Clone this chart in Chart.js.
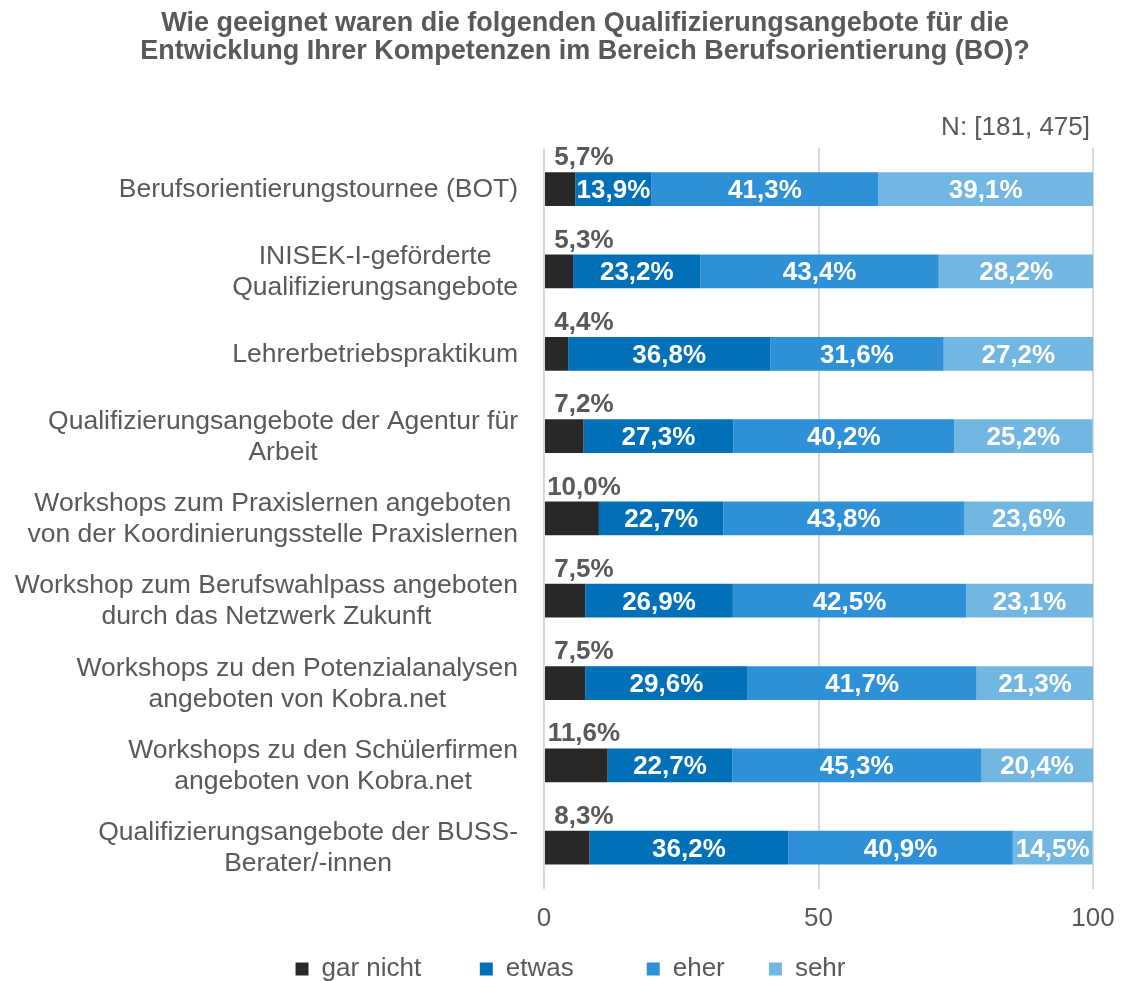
<!DOCTYPE html>
<html lang="de">
<head>
<meta charset="utf-8">
<title>Qualifizierungsangebote BO</title>
<script src="https://cdn.jsdelivr.net/npm/chart.js@4.4.1/dist/chart.umd.min.js"></script>
<style>
  html, body { margin: 0; padding: 0; background: #fff; }
  #wrap { width: 1121px; height: 981px; }
</style>
</head>
<body>
<div id="wrap"><canvas id="boChart" width="1121" height="981"></canvas></div>
<script>
const chartTitle = [
    "Wie geeignet waren die folgenden Qualifizierungsangebote für die",
    "Entwicklung Ihrer Kompetenzen im Bereich Berufsorientierung (BO)?"
];
const sampleNote = "N: [181, 475]";

const categories = [
    ["Berufsorientierungstournee (BOT)"],
    ["INISEK-I-geförderte", "Qualifizierungsangebote"],
    ["Lehrerbetriebspraktikum"],
    ["Qualifizierungsangebote der Agentur für", "Arbeit"],
    ["Workshops zum Praxislernen angeboten", "von der Koordinierungsstelle Praxislernen"],
    ["Workshop zum Berufswahlpass angeboten", "durch das Netzwerk Zukunft"],
    ["Workshops zu den Potenzialanalysen", "angeboten von Kobra.net"],
    ["Workshops zu den Schülerfirmen", "angeboten von Kobra.net"],
    ["Qualifizierungsangebote der BUSS-", "Berater/-innen"]
];

const seriesNames = ["gar nicht", "etwas", "eher", "sehr"];
const garNicht = [5.7, 5.3, 4.4, 7.2, 10.0, 7.5, 7.5, 11.6, 8.3];
const etwas    = [13.9, 23.2, 36.8, 27.3, 22.7, 26.9, 29.6, 22.7, 36.2];
const eher     = [41.3, 43.4, 31.6, 40.2, 43.8, 42.5, 41.7, 45.3, 40.9];
const sehr     = [39.1, 28.2, 27.2, 25.2, 23.6, 23.1, 21.3, 20.4, 14.5];
const xTicks = [0, 50, 100];

const seriesColors = ["#282828", "#0071b9", "#2e91d8", "#72b7e2"];
const FONT = "'Liberation Sans', Arial, sans-serif";
const TEXT_GRAY = "#595959";
const legendGaps = [7, 9, 5, 0]; // extra spacing after legend entries

Chart.defaults.font.family = FONT;

function pct(v) {
    return v.toFixed(1).replace(".", ",") + "%";
}

// title, N, category labels (centered lines) and value labels
const textPlugin = {
    id: "boText",
    afterDatasetsDraw(chart) {
        const ctx = chart.ctx;
        const area = chart.chartArea;
        const yScale = chart.scales.y;
        ctx.save();
        ctx.fillStyle = TEXT_GRAY;
        ctx.textBaseline = "alphabetic";

        ctx.font = "bold 27px " + FONT;
        ctx.textAlign = "center";
        chartTitle.forEach((line, i) => ctx.fillText(line, 585, 31 + i * 28));

        ctx.font = "26px " + FONT;
        ctx.textAlign = "right";
        ctx.fillText(sampleNote, area.right - 3, 135);

        ctx.font = "26.5px " + FONT;
        ctx.textAlign = "center";
        const rightEdge = area.left - 26;
        categories.forEach((lines, i) => {
            const yc = yScale.getPixelForTick(i);
            const w = Math.max(...lines.map(l => ctx.measureText(l).width));
            const cx = rightEdge - w / 2;
            lines.forEach((l, j) => {
                ctx.fillText(l, cx, yc + (j - (lines.length - 1) / 2) * 31 + 8);
            });
        });

        ctx.font = "bold 26px " + FONT;
        chart.data.datasets.forEach((ds, di) => {
            chart.getDatasetMeta(di).data.forEach((bar, i) => {
                const { x, y, base, height } = bar.getProps(["x", "y", "base", "height"], true);
                const txt = pct(ds.data[i]);
                if (di === 0) {
                    ctx.fillStyle = TEXT_GRAY;
                    ctx.fillText(txt, base + 39, y - height / 2 - 7);
                } else {
                    ctx.fillStyle = "#ffffff";
                    ctx.fillText(txt, (x + base) / 2, y + 9);
                }
            });
        });
        ctx.restore();
    }
};

new Chart(document.getElementById("boChart"), {
    type: "bar",
    data: {
        labels: categories,
        datasets: [garNicht, etwas, eher, sehr].map((values, i) => ({
            label: seriesNames[i],
            data: values,
            backgroundColor: seriesColors[i],
            borderWidth: 0,
            barPercentage: 0.41,
            categoryPercentage: 1
        }))
    },
    options: {
        indexAxis: "y",
        responsive: false,
        animation: false,
        layout: { padding: { top: 148, right: 28, bottom: -11, left: 48 } },
        scales: {
            x: {
                stacked: true,
                min: 0,
                max: 100,
                afterBuildTicks: s => { s.ticks = xTicks.map(v => ({ value: v })); },
                afterFit: s => { s.paddingRight = 0; },
                grid: { color: "#d9d9d9", lineWidth: 2, drawTicks: false },
                border: { display: false },
                ticks: { color: TEXT_GRAY, font: { size: 26 }, padding: 14 }
            },
            y: {
                stacked: true,
                grid: { display: false },
                border: { display: false },
                ticks: { display: false },
                afterFit: s => { s.width = 496; }
            }
        },
        plugins: {
            legend: {
                position: "bottom",
                labels: {
                    boxWidth: 13,
                    boxHeight: 13,
                    padding: 8,
                    color: TEXT_GRAY,
                    font: { size: 26 },
                    generateLabels: chart => Chart.defaults.plugins.legend.labels.generateLabels(chart)
                        .map((item, i) => Object.assign(item, { text: item.text + "\u00a0".repeat(legendGaps[i]) }))
                }
            },
            tooltip: { enabled: false }
        }
    },
    plugins: [textPlugin]
});
</script>
</body>
</html>
